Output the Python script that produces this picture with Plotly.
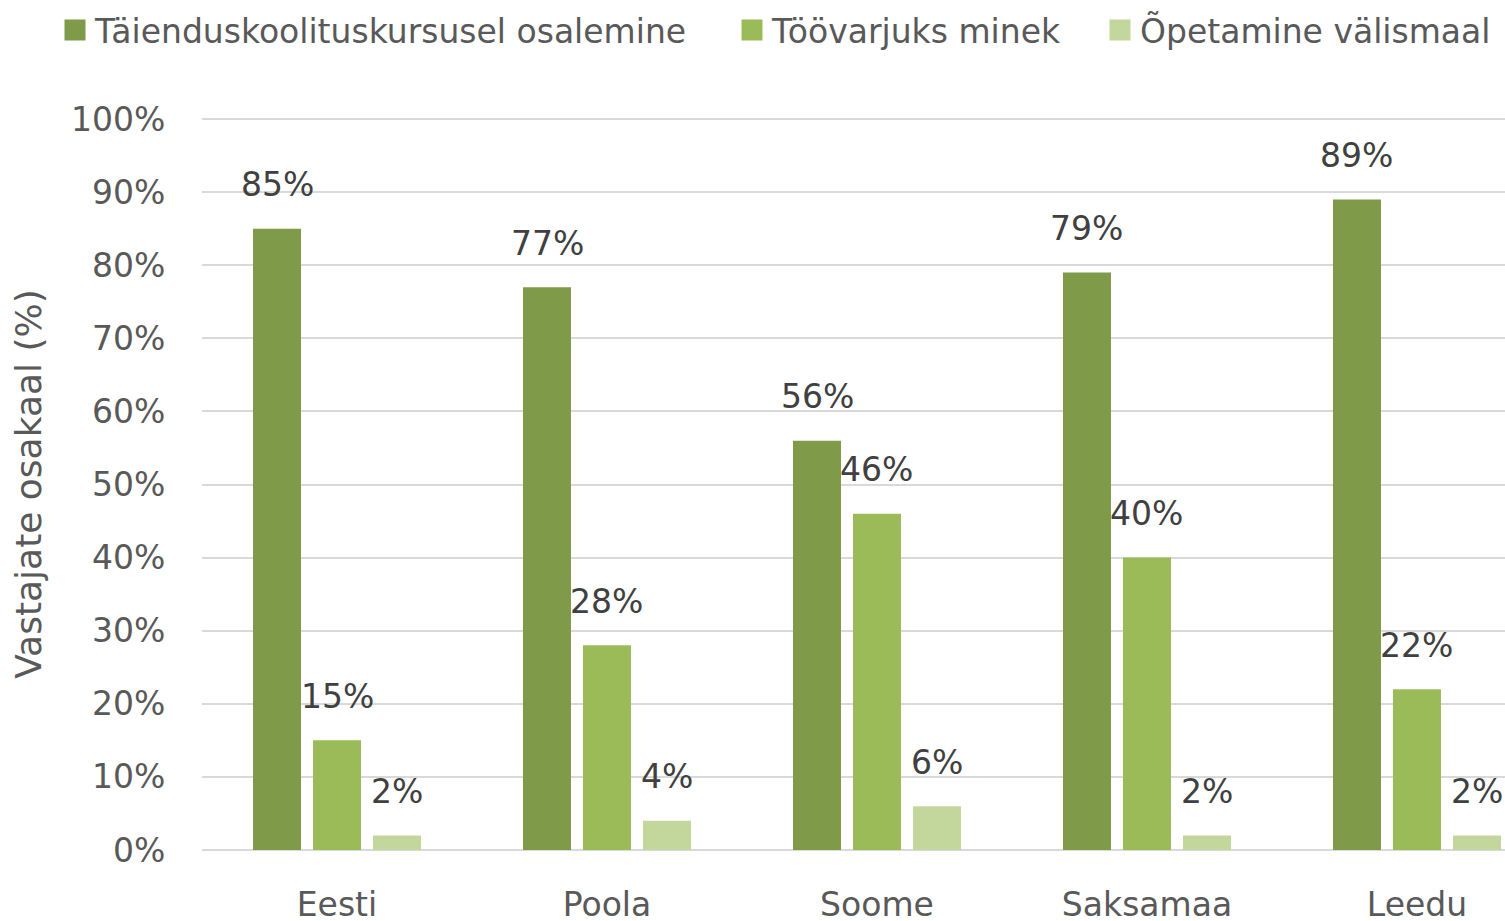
import plotly.graph_objects as go

categories = ["Eesti", "Poola", "Soome", "Saksamaa", "Leedu"]
series_names = ["Täienduskoolituskursusel osalemine", "Töövarjuks minek", "Õpetamine välismaal"]
values_course = [85, 77, 56, 79, 89]
values_shadow = [15, 28, 46, 40, 22]
values_abroad = [2, 4, 6, 2, 2]
y_ticks = [0, 10, 20, 30, 40, 50, 60, 70, 80, 90, 100]
y_tick_labels = [f"{v}%" for v in y_ticks]

colors = ["#7f9a48", "#9bbb59", "#c3d69b"]
series = [values_course, values_shadow, values_abroad]
FONT = "DejaVu Sans"
TXT = "#595959"
FS = 33

x_pos = list(range(len(categories)))
fig = go.Figure()
annotations = []
offsets = [-0.2222, 0.0, 0.2222]
for name, vals, col, off in zip(series_names, series, colors, offsets):
    fig.add_trace(go.Bar(x=x_pos, y=vals, name=name, showlegend=False,
                         marker=dict(color=col, line=dict(width=0))))
    for xi, v in zip(x_pos, vals):
        annotations.append(dict(x=xi + off, y=v, xref="x", yref="y", text=f"{v}%", showarrow=False,
                                yanchor="middle", yshift=44, font=dict(family=FONT, size=FS, color="#404040")))

# legend entries (square swatches), one legend per entry so each can be placed
legend_ids = ["legend", "legend2", "legend3"]
legend_x = [55, 732, 1100]
for name, col, lid in zip(series_names, colors, legend_ids):
    fig.add_trace(go.Scatter(x=[None], y=[None], mode="markers", name=name, legend=lid,
                             marker=dict(symbol="square", size=16, color=col, line=dict(color=col, width=5))))

legend_common = dict(orientation="h", xref="container", xanchor="left",
                     y=1 - 30 / 921, yref="container", yanchor="middle",
                     font=dict(family=FONT, size=FS, color=TXT), bgcolor="rgba(0,0,0,0)")
legends = {}
for lid, lx in zip(legend_ids, legend_x):
    legends[lid] = dict(legend_common, x=lx / 1505)

fig.update_layout(
    width=1505, height=921,
    margin=dict(l=202, r=0, t=118, b=71, autoexpand=False),
    paper_bgcolor="white", plot_bgcolor="white",
    barmode="group", bargap=0.3333, bargroupgap=0.2,
    font=dict(family=FONT, size=FS, color=TXT),
    annotations=annotations,
    xaxis=dict(range=[-0.5, 4.326], tickvals=x_pos, ticktext=categories, showgrid=False, zeroline=False,
               showline=False, ticks="outside", ticklen=25, tickcolor="rgba(0,0,0,0)",
               tickfont=dict(family=FONT, size=FS, color=TXT)),
    yaxis=dict(range=[0, 100.14], tickvals=y_ticks, ticktext=y_tick_labels, showgrid=True,
               gridcolor="#d9d9d9", gridwidth=2,
               zeroline=True, zerolinecolor="#d9d9d9", zerolinewidth=2,
               ticks="outside", ticklen=29, tickcolor="rgba(0,0,0,0)",
               tickfont=dict(family=FONT, size=FS, color=TXT),
               title=dict(text="Vastajate osakaal (%)", font=dict(family=FONT, size=36, color=TXT), standoff=18)),
    **legends,
)
fig.write_html("out.html", config={"displayModeBar": False},
               post_script="document.body.style.margin='0';")
